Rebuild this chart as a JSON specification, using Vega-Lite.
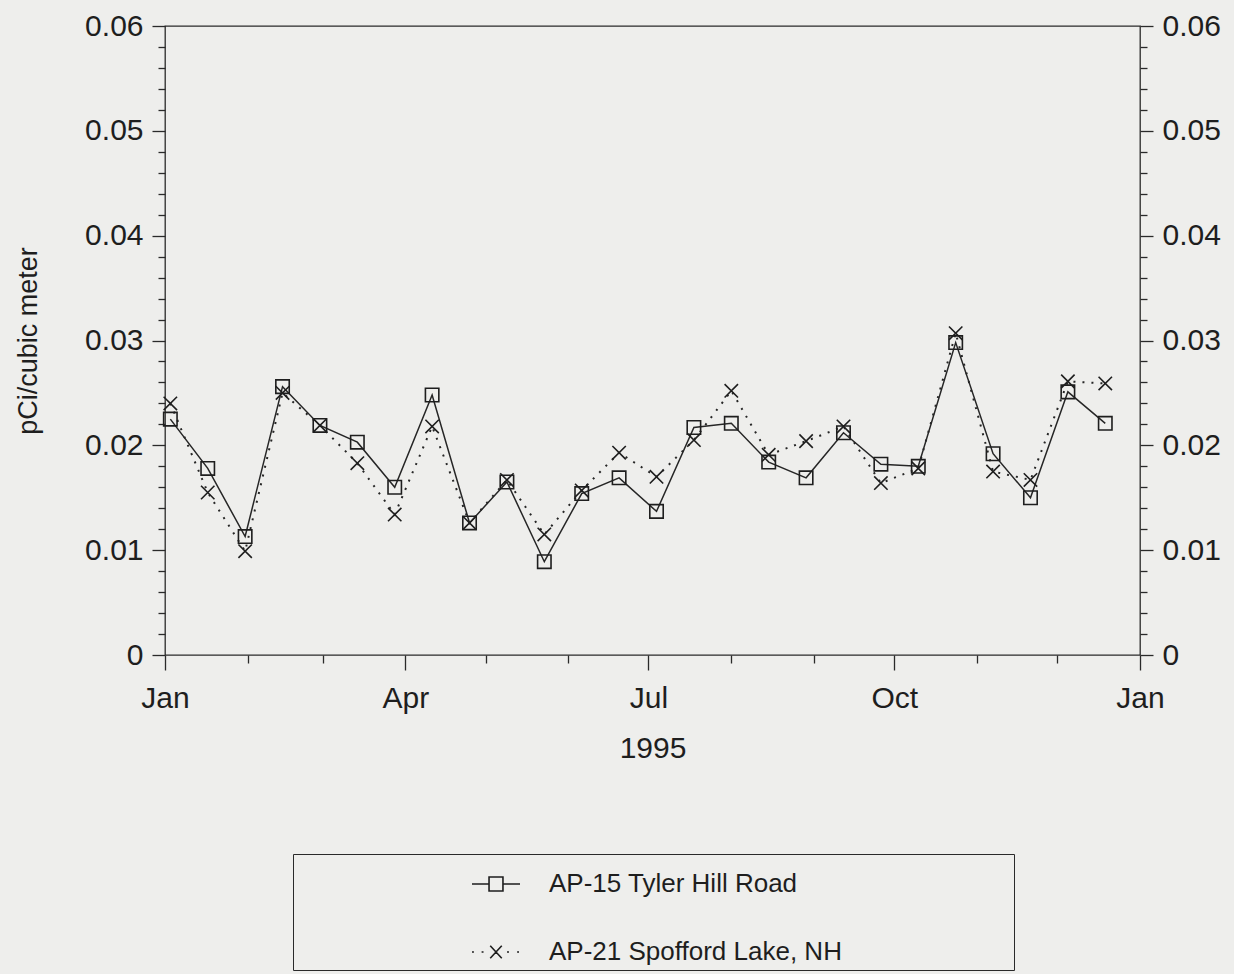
{
  "$schema": "https://vega.github.io/schema/vega-lite/v6.json",
  "width": 975,
  "height": 629,
  "autosize": {"type": "none"},
  "padding": {"left": 165, "top": 26, "right": 94, "bottom": 319},
  "background": "#eeeeec",
  "config": {
    "view": {"stroke": "#2a2a2a", "strokeWidth": 1.3},
    "axis": {
      "domain": false,
      "grid": false,
      "tickColor": "#2a2a2a",
      "tickWidth": 1.3,
      "labelColor": "#1e1e1e",
      "labelFont": "Liberation Sans",
      "labelFontSize": 30,
      "titleColor": "#1e1e1e",
      "titleFont": "Liberation Sans",
      "titleFontWeight": "normal"
    }
  },
  "data": {
    "values": [
      {"date": "1995-01-03T00:00:00", "site": "AP-15 Tyler Hill Road", "value": 0.0225},
      {"date": "1995-01-17T00:00:00", "site": "AP-15 Tyler Hill Road", "value": 0.0178},
      {"date": "1995-01-31T00:00:00", "site": "AP-15 Tyler Hill Road", "value": 0.0113},
      {"date": "1995-02-14T00:00:00", "site": "AP-15 Tyler Hill Road", "value": 0.0256},
      {"date": "1995-02-28T00:00:00", "site": "AP-15 Tyler Hill Road", "value": 0.0219},
      {"date": "1995-03-14T00:00:00", "site": "AP-15 Tyler Hill Road", "value": 0.0203},
      {"date": "1995-03-28T00:00:00", "site": "AP-15 Tyler Hill Road", "value": 0.0160},
      {"date": "1995-04-11T00:00:00", "site": "AP-15 Tyler Hill Road", "value": 0.0248},
      {"date": "1995-04-25T00:00:00", "site": "AP-15 Tyler Hill Road", "value": 0.0126},
      {"date": "1995-05-09T00:00:00", "site": "AP-15 Tyler Hill Road", "value": 0.0165},
      {"date": "1995-05-23T00:00:00", "site": "AP-15 Tyler Hill Road", "value": 0.0089},
      {"date": "1995-06-06T00:00:00", "site": "AP-15 Tyler Hill Road", "value": 0.0154},
      {"date": "1995-06-20T00:00:00", "site": "AP-15 Tyler Hill Road", "value": 0.0169},
      {"date": "1995-07-04T00:00:00", "site": "AP-15 Tyler Hill Road", "value": 0.0137},
      {"date": "1995-07-18T00:00:00", "site": "AP-15 Tyler Hill Road", "value": 0.0217},
      {"date": "1995-08-01T00:00:00", "site": "AP-15 Tyler Hill Road", "value": 0.0221},
      {"date": "1995-08-15T00:00:00", "site": "AP-15 Tyler Hill Road", "value": 0.0184},
      {"date": "1995-08-29T00:00:00", "site": "AP-15 Tyler Hill Road", "value": 0.0169},
      {"date": "1995-09-12T00:00:00", "site": "AP-15 Tyler Hill Road", "value": 0.0212},
      {"date": "1995-09-26T00:00:00", "site": "AP-15 Tyler Hill Road", "value": 0.0182},
      {"date": "1995-10-10T00:00:00", "site": "AP-15 Tyler Hill Road", "value": 0.0180},
      {"date": "1995-10-24T00:00:00", "site": "AP-15 Tyler Hill Road", "value": 0.0298},
      {"date": "1995-11-07T00:00:00", "site": "AP-15 Tyler Hill Road", "value": 0.0192},
      {"date": "1995-11-21T00:00:00", "site": "AP-15 Tyler Hill Road", "value": 0.0150},
      {"date": "1995-12-05T00:00:00", "site": "AP-15 Tyler Hill Road", "value": 0.0251},
      {"date": "1995-12-19T00:00:00", "site": "AP-15 Tyler Hill Road", "value": 0.0221},
      {"date": "1995-01-03T00:00:00", "site": "AP-21 Spofford Lake, NH", "value": 0.0240},
      {"date": "1995-01-17T00:00:00", "site": "AP-21 Spofford Lake, NH", "value": 0.0155},
      {"date": "1995-01-31T00:00:00", "site": "AP-21 Spofford Lake, NH", "value": 0.0099},
      {"date": "1995-02-14T00:00:00", "site": "AP-21 Spofford Lake, NH", "value": 0.0250},
      {"date": "1995-02-28T00:00:00", "site": "AP-21 Spofford Lake, NH", "value": 0.0219},
      {"date": "1995-03-14T00:00:00", "site": "AP-21 Spofford Lake, NH", "value": 0.0183},
      {"date": "1995-03-28T00:00:00", "site": "AP-21 Spofford Lake, NH", "value": 0.0134},
      {"date": "1995-04-11T00:00:00", "site": "AP-21 Spofford Lake, NH", "value": 0.0218},
      {"date": "1995-04-25T00:00:00", "site": "AP-21 Spofford Lake, NH", "value": 0.0126},
      {"date": "1995-05-09T00:00:00", "site": "AP-21 Spofford Lake, NH", "value": 0.0167},
      {"date": "1995-05-23T00:00:00", "site": "AP-21 Spofford Lake, NH", "value": 0.0115},
      {"date": "1995-06-06T00:00:00", "site": "AP-21 Spofford Lake, NH", "value": 0.0157},
      {"date": "1995-06-20T00:00:00", "site": "AP-21 Spofford Lake, NH", "value": 0.0193},
      {"date": "1995-07-04T00:00:00", "site": "AP-21 Spofford Lake, NH", "value": 0.0170},
      {"date": "1995-07-18T00:00:00", "site": "AP-21 Spofford Lake, NH", "value": 0.0205},
      {"date": "1995-08-01T00:00:00", "site": "AP-21 Spofford Lake, NH", "value": 0.0252},
      {"date": "1995-08-15T00:00:00", "site": "AP-21 Spofford Lake, NH", "value": 0.0191},
      {"date": "1995-08-29T00:00:00", "site": "AP-21 Spofford Lake, NH", "value": 0.0204},
      {"date": "1995-09-12T00:00:00", "site": "AP-21 Spofford Lake, NH", "value": 0.0218},
      {"date": "1995-09-26T00:00:00", "site": "AP-21 Spofford Lake, NH", "value": 0.0164},
      {"date": "1995-10-10T00:00:00", "site": "AP-21 Spofford Lake, NH", "value": 0.0178},
      {"date": "1995-10-24T00:00:00", "site": "AP-21 Spofford Lake, NH", "value": 0.0307},
      {"date": "1995-11-07T00:00:00", "site": "AP-21 Spofford Lake, NH", "value": 0.0175},
      {"date": "1995-11-21T00:00:00", "site": "AP-21 Spofford Lake, NH", "value": 0.0167},
      {"date": "1995-12-05T00:00:00", "site": "AP-21 Spofford Lake, NH", "value": 0.0261},
      {"date": "1995-12-19T00:00:00", "site": "AP-21 Spofford Lake, NH", "value": 0.0259}
    ]
  },
  "resolve": {
    "scale": {"shape": "independent"},
    "axis": {"x": "independent", "y": "independent"}
  },
  "layer": [
    {
      "transform": [{"filter": "datum.site == 'AP-15 Tyler Hill Road'"}],
      "mark": {"type": "line", "color": "#262626", "strokeWidth": 1.5},
      "encoding": {
        "x": {
          "field": "date", "type": "temporal",
          "scale": {"domain": [{"year": 1995, "month": 1, "date": 1}, {"year": 1996, "month": 1, "date": 1}]},
          "axis": {
            "orient": "bottom",
            "values": [
              {"year": 1995, "month": 1, "date": 1},
              {"year": 1995, "month": 4, "date": 1},
              {"year": 1995, "month": 7, "date": 1},
              {"year": 1995, "month": 10, "date": 1},
              {"year": 1996, "month": 1, "date": 1}
            ],
            "format": "%b",
            "tickSize": 15,
            "labelPadding": 13,
            "labelFlush": false,
            "labelOverlap": false,
            "title": "1995",
            "titleFontSize": 30,
            "titlePadding": 20
          }
        },
        "y": {
          "field": "value", "type": "quantitative",
          "scale": {"domain": [0, 0.06], "nice": false},
          "axis": {
            "orient": "left",
            "values": [0, 0.01, 0.02, 0.03, 0.04, 0.05, 0.06],
            "format": ".2~f",
            "tickSize": 13,
            "labelPadding": 9,
            "labelFlush": false,
            "labelOverlap": false,
            "title": "pCi/cubic meter",
            "titleFontSize": 27,
            "titlePadding": 42
          }
        }
      }
    },
    {
      "transform": [{"filter": "datum.site == 'AP-21 Spofford Lake, NH'"}],
      "mark": {"type": "line", "color": "#262626", "strokeWidth": 2, "strokeDash": [2, 7]},
      "encoding": {
        "x": {
          "field": "date", "type": "temporal",
          "axis": {
            "orient": "bottom",
            "values": [
              {"year": 1995, "month": 2, "date": 1},
              {"year": 1995, "month": 3, "date": 1},
              {"year": 1995, "month": 5, "date": 1},
              {"year": 1995, "month": 6, "date": 1},
              {"year": 1995, "month": 8, "date": 1},
              {"year": 1995, "month": 9, "date": 1},
              {"year": 1995, "month": 11, "date": 1},
              {"year": 1995, "month": 12, "date": 1}
            ],
            "labels": false,
            "tickSize": 8,
            "title": null
          }
        },
        "y": {
          "field": "value", "type": "quantitative",
          "axis": {
            "orient": "left",
            "values": [0.002, 0.004, 0.006, 0.008, 0.012, 0.014, 0.016, 0.018, 0.022, 0.024, 0.026, 0.028, 0.032, 0.034, 0.036, 0.038, 0.042, 0.044, 0.046, 0.048, 0.052, 0.054, 0.056, 0.058],
            "labels": false,
            "tickSize": 7,
            "title": null
          }
        }
      }
    },
    {
      "mark": {"type": "point", "filled": false, "color": "#1e1e1e", "strokeWidth": 1.6, "size": 180, "opacity": 1},
      "encoding": {
        "x": {"field": "date", "type": "temporal", "axis": null},
        "y": {
          "field": "value", "type": "quantitative",
          "axis": {
            "orient": "right",
            "values": [0, 0.01, 0.02, 0.03, 0.04, 0.05, 0.06],
            "format": ".2~f",
            "tickSize": 13,
            "labelPadding": 9,
            "labelFlush": false,
            "labelOverlap": false,
            "title": null
          }
        },
        "shape": {
          "field": "site", "type": "nominal",
          "scale": {"domain": ["AP-15 Tyler Hill Road", "AP-21 Spofford Lake, NH"], "range": ["square", "M-1,-1L1,1M-1,1L1,-1"]},
          "legend": null
        }
      }
    },
    {
      "mark": {"type": "point", "filled": false, "color": "#1e1e1e", "strokeWidth": 1.6, "size": 2304, "opacity": 0},
      "encoding": {
        "x": {"field": "date", "type": "temporal", "axis": null},
        "y": {
          "field": "value", "type": "quantitative",
          "axis": {
            "orient": "right",
            "values": [0.002, 0.004, 0.006, 0.008, 0.012, 0.014, 0.016, 0.018, 0.022, 0.024, 0.026, 0.028, 0.032, 0.034, 0.036, 0.038, 0.042, 0.044, 0.046, 0.048, 0.052, 0.054, 0.056, 0.058],
            "labels": false,
            "tickSize": 7,
            "title": null
          }
        },
        "shape": {
          "field": "site", "type": "nominal",
          "scale": {
            "domain": ["AP-15 Tyler Hill Road", "AP-21 Spofford Lake, NH"],
            "range": [
              "M-1,0H-0.29M0.29,0H1M-0.29,-0.29H0.29V0.29H-0.29Z",
              "M-1,0H-0.92M-0.6,0H-0.52M0.46,0H0.54M0.88,0H0.96M-0.24,-0.26L0.24,0.26M-0.24,0.26L0.24,-0.26"
            ]
          },
          "legend": {
            "orient": "none",
            "legendX": 128,
            "legendY": 828,
            "title": null,
            "padding": 5,
            "symbolOffset": 173,
            "symbolSize": 2304,
            "symbolStrokeWidth": 1.6,
            "symbolStrokeColor": "#1e1e1e",
            "symbolFillColor": "transparent",
            "symbolOpacity": 1,
            "labelOffset": 28,
            "labelFont": "Liberation Sans",
            "labelFontSize": 26,
            "labelColor": "#1e1e1e",
            "labelLimit": 0,
            "labelExpr": "datum.label + '\u00a0\u00a0\u00a0\u00a0\u00a0\u00a0\u00a0\u00a0\u00a0\u00a0\u00a0\u00a0\u00a0\u00a0\u00a0\u00a0\u00a0\u00a0\u00a0\u00a0\u00a0\u00a0\u00a0\u200b'",
            "rowPadding": 30,
            "strokeColor": "#2a2a2a",
            "fillColor": "transparent",
            "encode": {
              "legend": {"update": {"strokeWidth": {"value": 1.3}}},
              "symbols": {"update": {"opacity": {"value": 1}, "stroke": {"value": "#1e1e1e"}, "fill": {"value": "transparent"}}}
            }
          }
        }
      }
    }
  ]
}
